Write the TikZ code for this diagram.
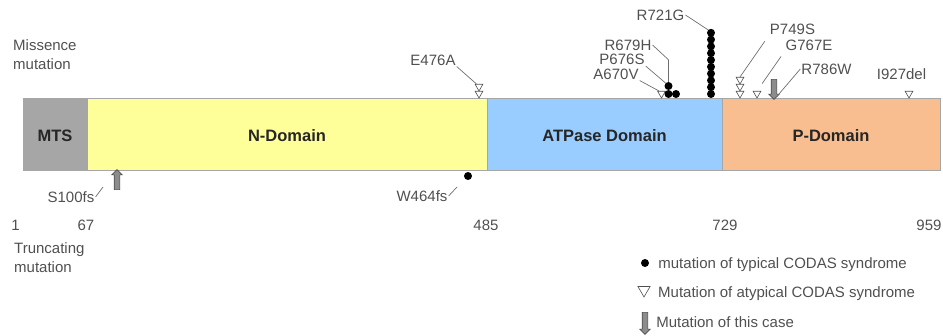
\documentclass[tikz,border=0pt]{standalone}
\usepackage{fontspec}
\setmainfont{Liberation Sans}
\usepackage{xcolor}
\usepackage{tikz}
\usetikzlibrary{positioning,calc,shapes.geometric,shapes.arrows}

\definecolor{mtsgray}{HTML}{A6A6A6}
\definecolor{nyellow}{HTML}{FFFF99}
\definecolor{atpblue}{HTML}{99CCFF}
\definecolor{porange}{HTML}{F9BE8F}
\definecolor{txtgray}{HTML}{505050}
\definecolor{domtxt}{HTML}{262626}
\definecolor{linegray}{HTML}{6E6E6E}
\definecolor{casegray}{HTML}{8C8C8C}
\definecolor{casedark}{HTML}{4D4D4D}

\begin{document}
\begin{tikzpicture}[x=1pt, y=-1pt,
  dom/.style={draw=gray!70, outer sep=0pt, inner sep=0pt, minimum height=72pt,
              font=\fontsize{16.5pt}{19pt}\selectfont\bfseries, text=domtxt,
              text height=15pt, text depth=0pt},
  lbl/.style={font=\fontsize{15pt}{19pt}\selectfont, text=txtgray, inner sep=1pt,
              text height=10.7pt, text depth=0pt},
  lblm/.style={font=\fontsize{15pt}{19pt}\selectfont, text=txtgray, inner sep=1pt,
               align=left, anchor=north west},
  typ/.style={circle, fill=black, inner sep=0pt, minimum size=8pt},
  atyp/.style={regular polygon, regular polygon sides=3, shape border rotate=180,
               draw=txtgray, fill=white, line width=0.6pt, inner sep=0pt, minimum size=9pt},
  case/.style={single arrow, draw=casedark, fill=casegray, line width=0.6pt,
               inner sep=2.5pt, single arrow head extend=2.5pt, minimum height=20pt},
  leader/.style={draw=linegray, line width=0.7pt}
]
\useasboundingbox (0,0) rectangle (943,335);

% protein bar
\node[dom, fill=mtsgray, minimum width=64pt, anchor=north west] (mts) at (23,98) {MTS};
\node[dom, fill=nyellow, minimum width=400pt, right=0pt of mts] (ndom) {N-Domain};
\node[dom, fill=atpblue, minimum width=235pt, right=0pt of ndom] (atp) {ATPase Domain};
\node[dom, fill=porange, minimum width=218pt, right=0pt of atp] (pdom) {P-Domain};

% row titles and residue numbers
\node[lblm] (miss) at (12,38.6) {Missence\\mutation};
\node[lblm] (trunc) at (13,241.6) {Truncating\\mutation};
\node[lbl] (n1) at (15.5,225) {1};
\node[lbl] (n67) at (86,225) {67};
\node[lbl] (n485) at (486,225) {485};
\node[lbl] (n729) at (725,225) {729};
\node[lbl] (n959) at (929,225) {959};

% missense labels
\node[lbl] (e476a) at (433,60) {E476A};
\node[lbl] (r679h) at (628,45) {R679H};
\node[lbl] (p676s) at (622,59.5) {P676S};
\node[lbl] (a670v) at (616,74) {A670V};
\node[lbl] (r721g) at (660.5,15) {R721G};
\node[lbl] (p749s) at (792.5,29) {P749S};
\node[lbl] (g767e) at (809,45) {G767E};
\node[lbl] (r786w) at (826.5,69) {R786W};
\node[lbl] (i927del) at (901.5,74) {I927del};

% missense marks
\node[atyp] (e476a-m1) at (479,86.5) {};
\node[atyp] (e476a-m2) at (479,93.5) {};
\node[atyp] (a670v-m) at (661.5,93.5) {};
\node[typ] (p676s-m) at (668.5,94) {};
\node[typ] (r679h-m1) at (676,94) {};
\node[typ] (r679h-m2) at (668.5,86) {};
\foreach \k in {0,...,9}
  \node[typ] (r721g-m\k) at (711,{94-6.8*\k}) {};
\node[atyp] (p749s-m1) at (740,93.5) {};
\node[atyp] (p749s-m2) at (740,86.5) {};
\node[atyp] (p749s-m3) at (740,79.5) {};
\node[atyp] (g767e-m) at (757,93.5) {};
\node[case, shape border rotate=270] (r786w-m) at (774,88) {};
\node[atyp] (i927del-m) at (909,93.5) {};

\draw[leader] (e476a.south east) -- (e476a-m1.north west);
\draw[leader] (a670v.south east) -- (a670v-m.north west);
\draw[leader] (p676s.south east) -- (r679h-m2.north west);
\draw[leader] (r679h.east) -- ($(r679h-m2.north)+(0,-22)$) -- (r679h-m2.north);
\draw[leader] (r721g.east) -- (r721g-m9.north west);
\draw[leader, shorten <=7pt] (p749s.south west) -- (p749s-m3.north);
\draw[leader, shorten <=6pt, shorten >=9pt] (g767e.south west) -- (g767e-m.north);
\draw[leader, shorten >=4pt] (r786w.west) -- (r786w-m.tip);

% truncating mutations
\node[lbl] (s100fs) at (71,197) {S100fs};
\node[lbl] (w464fs) at (422,196) {W464fs};
\node[case, shape border rotate=90] (s100fs-m) at (117,181) {};
\node[typ] (w464fs-m) at (468,176) {};
\coordinate (s100fs-end) at (103,187);
\coordinate (w464fs-end) at (457,187);
\draw[leader] (s100fs.east) -- (s100fs-end);
\draw[leader] (w464fs.east) -- (w464fs-end);

% legend
\node[typ] (legtyp) at (645,263) {};
\node[lbl, right=8pt of legtyp] (legtyptxt) {mutation of typical CODAS syndrome};
\node[atyp, minimum size=14pt] (legatyp) at (644,290) {};
\node[lbl, anchor=west] (legatyptxt) at (657,292) {Mutation of atypical CODAS syndrome};
\node[case, shape border rotate=270, minimum height=22pt] (legcase) at (645,322) {};
\node[lbl, right=7pt of legcase] (legcasetxt) {Mutation of this case};
\end{tikzpicture}
\end{document}
